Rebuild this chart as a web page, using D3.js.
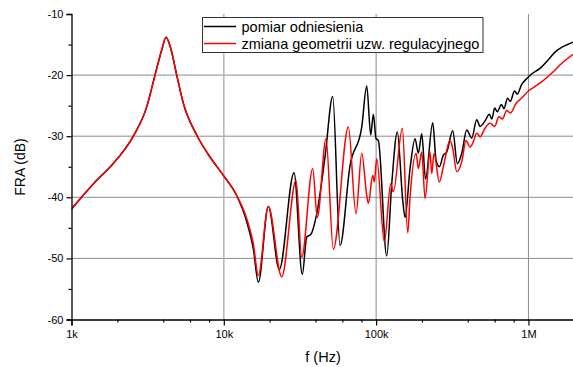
<!DOCTYPE html>
<html>
<head>
<meta charset="utf-8">
<script src="https://cdn.jsdelivr.net/npm/d3@7"></script>
<style>
body { margin: 0; background: #fff; }
svg { display: block; font-family: Arial, "Liberation Sans", sans-serif; }
</style>
</head>
<body>
<svg width="573" height="367"></svg>
<script>
// ---- data ----
var seriesNames = ["pomiar odniesienia", "zmiana geometrii uzw. regulacyjnego"];
var seriesColors = ["#000000", "#ff0000"];

// resonance part, the same for both measurements
var common = [[1000,-41.9],[1464,-37.2],[1837,-34.75],[2546,-30.0],[3118,-25.2],[3534,-20.0],
  [3911,-15.9],[4174,-13.8],[4481,-15.6],[4906,-20.0],[5422,-24.6],[6640,-29.8],[8118,-33.4],
  [9925,-36.4],[12150,-39.7]];

var pomiar = [[14140,-44.0],[15620,-48.4],[16850,-53.9],[19600,-41.5],[23140,-51.8],[28900,-36.0],
  [32760,-52.6],[35020,-46.5],[37200,-46.1],[40740,-42.7],[46180,-33.4],[51880,-23.5],[57940,-47.9],
  [67400,-34.8],[80440,-28.5],[86770,-21.8],[92150,-29.8],[95850,-26.4],[99850,-30.4],[103400,-30.7],
  [117400,-49.6],[126600,-37.8],[137800,-29.3],[149500,-40.5],[154800,-43.3],[167000,-35.3],
  [180100,-30.4],[189300,-32.8],[199300,-29.6],[211000,-37.0],[235300,-27.8],[247400,-33.9],
  [260000,-35.0],[276200,-33.1],[290800,-32.6],[318400,-29.1],[341400,-34.5],[364800,-32.8],
  [393500,-29.0],[424400,-30.3],[457700,-27.3],[481200,-28.4],[518800,-27.5],[553600,-26.4],
  [575000,-27.2],[600000,-25.4],[625000,-26.0],[665000,-24.8],[690000,-25.5],[730000,-23.8],
  [760000,-24.3],[810000,-22.6],[845000,-23.1],[900000,-21.6],[980000,-20.5],[1040000,-19.9],
  [1190000,-18.9],[1350000,-17.5],[1500000,-16.2],[1700000,-15.3],[1963000,-14.6]];

var zmiana = [[14140,-43.5],[15620,-47.6],[16850,-52.8],[19600,-41.5],[24000,-53.0],[29790,-37.2],
  [32470,-49.8],[38340,-35.3],[41100,-43.3],[46880,-30.4],[52360,-48.5],[65700,-28.5],[73800,-42.7],
  [80440,-32.8],[86770,-39.7],[88900,-41.0],[95000,-36.4],[97300,-37.5],[100900,-33.7],[113200,-47.3],
  [124700,-37.8],[129700,-39.1],[148600,-28.7],[161300,-45.8],[167000,-40.0],[182800,-32.8],
  [189300,-35.3],[199300,-32.6],[209500,-40.2],[225900,-32.6],[231700,-36.1],[240000,-32.8],
  [260000,-37.5],[276200,-35.0],[305700,-30.7],[318400,-32.0],[338300,-35.8],[364800,-34.2],
  [389400,-30.7],[413600,-31.8],[434800,-30.9],[457700,-29.5],[481200,-30.1],[518800,-28.7],
  [559600,-27.9],[600000,-28.4],[640000,-26.8],[675000,-27.2],[720000,-25.8],[760000,-26.2],
  [830000,-24.6],[900000,-23.8],[1000000,-22.6],[1100000,-21.9],[1250000,-20.9],[1450000,-19.5],
  [1650000,-18.1],[1963000,-16.6]];

var yMajor = [-60, -50, -40, -30, -20, -10];
var yMinor = [-55, -45, -35, -25, -15];
var yGrid = [-50, -40, -30, -20];
var xMajor = [1e3, 1e4, 1e5, 1e6];
var xMajorLabels = ["1k", "10k", "100k", "1M"];
var xMinor = [2e3, 4e3, 6e3, 8e3, 2e4, 4e4, 6e4, 8e4, 2e5, 4e5, 6e5, 8e5];

// ---- chart ----
var svg = d3.select("svg");

var x = d3.scaleLog()
    .domain([1000, 2e6])
    .range([71.5, 574.3]);

var y = d3.scaleLinear()
    .domain([-60, -10])
    .range([319.5, 14]);

svg.append("defs").append("clipPath")
    .attr("id", "plot")
  .append("rect")
    .attr("x", x.range()[0])
    .attr("y", y.range()[1] - 2)
    .attr("width", x.range()[1] - x.range()[0])
    .attr("height", y.range()[0] - y.range()[1] + 2);

// grid
svg.append("g")
  .selectAll("line")
  .data(yGrid)
  .enter().append("line")
    .attr("x1", x.range()[0])
    .attr("x2", x.range()[1])
    .attr("y1", function(d) { return y(d); })
    .attr("y2", function(d) { return y(d); })
    .attr("stroke", "#8c8c8c")
    .attr("stroke-width", 1);

svg.append("g")
  .selectAll("line")
  .data(xMajor.slice(1))
  .enter().append("line")
    .attr("x1", function(d) { return x(d); })
    .attr("x2", function(d) { return x(d); })
    .attr("y1", y.range()[1])
    .attr("y2", y.range()[0])
    .attr("stroke", function(d, i) { return i ? "#8c8c8c" : "#b4b4b4"; })
    .attr("stroke-width", function(d, i) { return i ? 1 : 1.5; });

// curves
var line = d3.line()
    .x(function(d) { return x(d[0]); })
    .y(function(d) { return y(d[1]); })
    .curve(d3.curveMonotoneX);

svg.append("g")
    .attr("clip-path", "url(#plot)")
  .selectAll("path")
  .data([common.concat(pomiar), common.concat(zmiana)])
  .enter().append("path")
    .attr("d", line)
    .attr("fill", "none")
    .attr("stroke", function(d, i) { return seriesColors[i]; })
    .attr("stroke-width", 1.5)
    .attr("stroke-linejoin", "round");

// axes
var yAxis = svg.append("g")
    .attr("transform", "translate(" + x.range()[0] + ",0)")
    .call(d3.axisLeft(y)
      .tickValues(yMajor)
      .tickSize(5)
      .tickPadding(3)
      .tickFormat(function(d) { return String(d); }));

svg.append("g")
    .attr("transform", "translate(" + x.range()[0] + ",0)")
    .call(d3.axisLeft(y).tickValues(yMinor).tickSize(3).tickFormat(""))
  .select(".domain").remove();

var xAxis = svg.append("g")
    .attr("transform", "translate(0," + y.range()[0] + ")")
    .call(d3.axisBottom(x)
      .tickValues(xMajor)
      .tickSize(6)
      .tickPadding(5)
      .tickFormat(function(d, i) { return xMajorLabels[i]; }));

svg.append("g")
    .attr("transform", "translate(0," + y.range()[0] + ")")
    .call(d3.axisBottom(x).tickValues(xMinor).tickSize(3).tickFormat(""))
  .select(".domain").remove();

svg.selectAll(".domain")
    .attr("stroke-width", 1.3);
svg.selectAll(".tick line")
    .attr("stroke-width", 1.2);
svg.selectAll(".tick text")
    .attr("font-size", "11px")
    .attr("font-family", "Arial, 'Liberation Sans', sans-serif")
    .attr("fill", "#000");

// axis titles
svg.append("text")
    .attr("x", 323)
    .attr("y", 362)
    .attr("text-anchor", "middle")
    .attr("font-size", "14.5px")
    .text("f (Hz)");

svg.append("text")
    .attr("transform", "translate(25,167) rotate(-90)")
    .attr("text-anchor", "middle")
    .attr("font-size", "14px")
    .text("FRA (dB)");

// legend
var legend = svg.append("g")
    .attr("class", "legend");

legend.append("rect")
    .attr("x", 202.5)
    .attr("y", 17.5)
    .attr("width", 280.5)
    .attr("height", 35)
    .attr("fill", "#fff")
    .attr("stroke", "#333")
    .attr("stroke-width", 1);

var item = legend.selectAll("g")
  .data(seriesNames)
  .enter().append("g")
    .attr("transform", function(d, i) { return "translate(0," + (26.5 + i * 17) + ")"; });

item.append("line")
    .attr("x1", 204)
    .attr("x2", 236)
    .attr("stroke", function(d, i) { return seriesColors[i]; })
    .attr("stroke-width", 1.5);

item.append("text")
    .attr("x", 241.5)
    .attr("y", 5)
    .attr("font-size", "14.5px")
    .text(function(d) { return d; });
</script>
</body>
</html>
